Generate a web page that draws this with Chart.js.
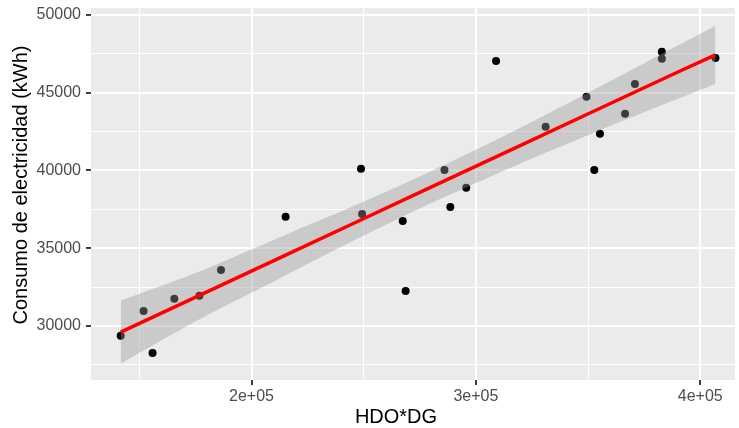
<!DOCTYPE html>
<html>
<head>
<meta charset="utf-8">
<script src="https://cdn.jsdelivr.net/npm/chart.js@4.4.1/dist/chart.umd.min.js"></script>
<style>
  html, body { margin: 0; padding: 0; background: #ffffff; }
  #wrap { width: 739px; height: 428px; position: relative; }
</style>
</head>
<body>
<div id="wrap"><canvas id="c" width="739" height="428"></canvas></div>
<script>
// ---- data ----
const hdoDg   = [141700,151900,155900,165600,176800,186400,215200,248800,249300,267400,268700,286000,288600,295700,309000,331100,349300,352800,355300,366500,370900,382900,382900,406800];
const consumo = [29360,30960,28260,31740,31930,33600,37010,40100,37200,36750,32250,40030,37650,38880,47040,42800,44730,40030,42350,43640,45560,47620,47170,47230];

// fitted line and its confidence band, read at several x positions
const fitX      = [141700,176800,212100,247500,279300,318300,353700,389100,406800];
const fitY      = [29600,31960,34340,36730,38870,41490,43880,46260,47430];
const bandUpper = [31630,33500,35670,37830,39900,42630,45260,47960,49300];
const bandLower = [27580,30420,33020,35630,37840,40350,42490,44550,45560];

// ticks
const yMajorTicks = [30000,35000,40000,45000,50000];
const yMinorTicks = [27500,32500,37500,42500,47500];
const xMajorTicks = [200000,300000,400000];
const xTickLabels = ['2e+05','3e+05','4e+05'];
const xMinorTicks = [150000,250000,350000];

const xTitle = 'HDO*DG';
const yTitle = 'Consumo de electricidad (kWh)';

const FONT = "'Liberation Sans', Arial, Helvetica, sans-serif";

const toPts = (xs, ys) => xs.map((x, i) => ({ x: x, y: ys[i] }));

const panelBg = {
  id: 'panelBg',
  beforeDraw(chart) {
    const a = chart.chartArea, ctx = chart.ctx;
    ctx.save();
    ctx.fillStyle = '#EBEBEB';
    ctx.fillRect(a.left, a.top, a.right - a.left, a.bottom - a.top);
    ctx.restore();
  }
};

const axisTitles = {
  id: 'axisTitles',
  afterDraw(chart) {
    const a = chart.chartArea, ctx = chart.ctx;
    ctx.save();
    ctx.fillStyle = '#000000';
    ctx.font = '20px ' + FONT;
    ctx.textAlign = 'center';
    ctx.textBaseline = 'middle';
    ctx.fillText(xTitle, a.left + 305, 417);
    ctx.translate(21, 185);
    ctx.rotate(-Math.PI / 2);
    ctx.fillText(yTitle, 0, 0);
    ctx.restore();
  }
};

const isMajor = (v, arr) => arr.some(m => Math.abs(m - v) < 1e-6);

new Chart(document.getElementById('c'), {
  data: {
    datasets: [
      {
        type: 'scatter',
        data: toPts(hdoDg, consumo),
        backgroundColor: '#000000',
        borderWidth: 0,
        pointRadius: 4,
        pointHoverRadius: 4,
        order: 4
      },
      {
        type: 'line',
        data: toPts(fitX, bandUpper),
        borderWidth: 0,
        borderColor: 'rgba(0,0,0,0)',
        pointRadius: 0,
        fill: false,
        tension: 0.3,
        order: 3
      },
      {
        type: 'line',
        data: toPts(fitX, bandLower),
        borderWidth: 0,
        borderColor: 'rgba(0,0,0,0)',
        backgroundColor: 'rgba(153,153,153,0.4)',
        pointRadius: 0,
        fill: '-1',
        tension: 0.3,
        order: 2
      },
      {
        type: 'line',
        data: toPts(fitX, fitY),
        borderColor: '#FF0000',
        borderWidth: 3.5,
        pointRadius: 0,
        fill: false,
        order: 1
      }
    ]
  },
  options: {
    responsive: false,
    animation: false,
    events: [],
    layout: { padding: { top: 8, right: 0, left: 0, bottom: 0 } },
    plugins: { legend: { display: false }, tooltip: { enabled: false } },
    scales: {
      x: {
        type: 'linear',
        min: 128460,
        max: 415500,
        afterBuildTicks(s) {
          s.ticks = xMinorTicks.concat(xMajorTicks).sort((a, b) => a - b).map(v => ({ value: v }));
        },
        afterFit(s) { s.height = 48; s.paddingLeft = 0; s.paddingRight = 0; },
        border: { display: false },
        grid: {
          color: '#FFFFFF',
          lineWidth: ctx => isMajor(ctx.tick.value, xMajorTicks) ? 1.9 : 0.95,
          drawTicks: true,
          tickLength: 5,
          tickColor: ctx => isMajor(ctx.tick.value, xMajorTicks) ? '#333333' : 'rgba(0,0,0,0)',
          tickWidth: 1.9
        },
        ticks: {
          autoSkip: false,
          maxRotation: 0,
          padding: 2,
          color: '#4D4D4D',
          font: { family: FONT, size: 16 },
          callback: v => {
            const i = xMajorTicks.indexOf(v);
            return i >= 0 ? xTickLabels[i] : '';
          }
        }
      },
      y: {
        type: 'linear',
        min: 26520,
        max: 50440,
        afterBuildTicks(s) {
          s.ticks = yMinorTicks.concat(yMajorTicks).sort((a, b) => a - b).map(v => ({ value: v }));
        },
        afterFit(s) { s.width = 91; s.paddingTop = 0; s.paddingBottom = 0; },
        border: { display: false },
        grid: {
          color: '#FFFFFF',
          lineWidth: ctx => isMajor(ctx.tick.value, yMajorTicks) ? 1.9 : 0.95,
          drawTicks: true,
          tickLength: 5,
          tickColor: ctx => isMajor(ctx.tick.value, yMajorTicks) ? '#333333' : 'rgba(0,0,0,0)',
          tickWidth: 1.9
        },
        ticks: {
          autoSkip: false,
          padding: 5,
          color: '#4D4D4D',
          font: { family: FONT, size: 16 },
          callback: v => isMajor(v, yMajorTicks) ? String(v) : ''
        }
      }
    }
  },
  plugins: [panelBg, axisTitles]
});
</script>
</body>
</html>
